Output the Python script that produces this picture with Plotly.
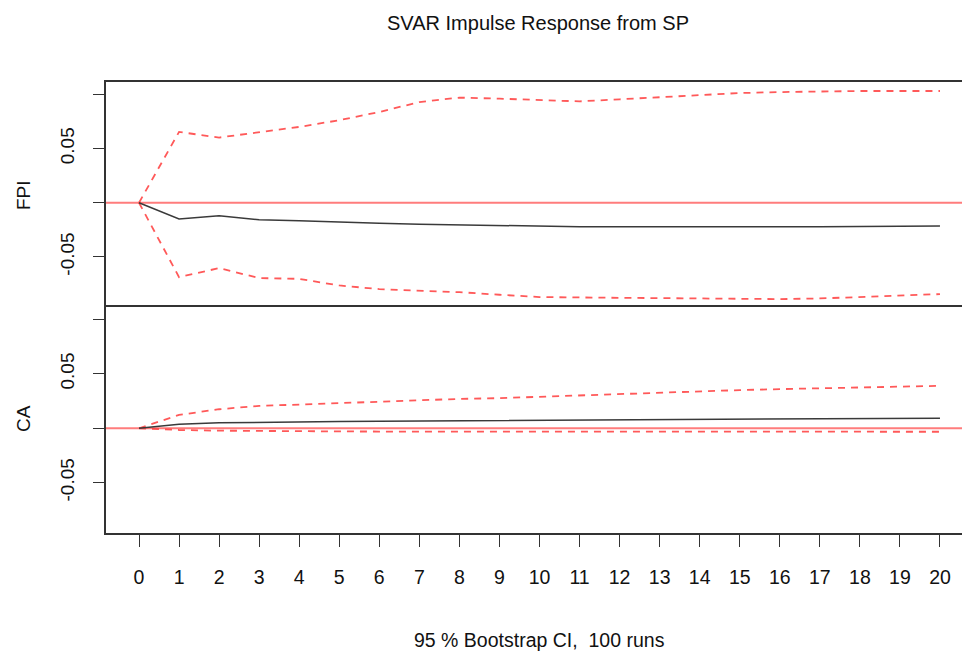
import plotly.graph_objects as go
from plotly.subplots import make_subplots

# Horizons of the impulse response
horizon = list(range(0, 21))
x_ticks = list(range(0, 21))

# Response of FPI to a structural SP shock, with 95% bootstrap bands
fpi_irf = [0.0, -0.0150, -0.0120, -0.0157, -0.0166, -0.0181, -0.0190, -0.0199, -0.0206,
           -0.0212, -0.0218, -0.0221, -0.0223, -0.0224, -0.0225, -0.0225, -0.0224,
           -0.0222, -0.0220, -0.0218, -0.0216]
fpi_upper = [0.0, 0.0654, 0.0602, 0.0651, 0.0700, 0.0762, 0.0838, 0.0930, 0.0971,
             0.0961, 0.0946, 0.0936, 0.0955, 0.0976, 0.0998, 0.1013, 0.1022, 0.1029,
             0.1032, 0.1032, 0.1032]
fpi_lower = [0.0, -0.0687, -0.0604, -0.0696, -0.0703, -0.0764, -0.0798, -0.0810, -0.0826,
             -0.0850, -0.0871, -0.0875, -0.0878, -0.0881, -0.0884, -0.0890, -0.0890,
             -0.0884, -0.0871, -0.0856, -0.0844]

# Response of CA to a structural SP shock, with 95% bootstrap bands
ca_irf = [0.0, 0.0038, 0.0050, 0.0056, 0.0060, 0.0063, 0.0065, 0.0067, 0.0069, 0.0071,
          0.0073, 0.0075, 0.0077, 0.0079, 0.0081, 0.0083, 0.0085, 0.0087, 0.0089,
          0.0091, 0.0093]
ca_upper = [0.0, 0.0123, 0.0175, 0.0206, 0.0218, 0.0231, 0.0246, 0.0261, 0.0270, 0.0277,
            0.0290, 0.0298, 0.0310, 0.0323, 0.0338, 0.0351, 0.0360, 0.0369, 0.0378,
            0.0384, 0.0390]
ca_lower = [0.0, -0.0016, -0.0022, -0.0026, -0.0028, -0.0029, -0.0030, -0.0030, -0.0030,
            -0.0030, -0.0030, -0.0030, -0.0030, -0.0030, -0.0030, -0.0030, -0.0031,
            -0.0031, -0.0031, -0.0032, -0.0032]

y_tickvals = [-0.05, 0.0, 0.05, 0.10]
y_ticktext = ["-0.05", "", "0.05", ""]

FONT = "Liberation Sans, Arial, sans-serif"
BAND = "rgba(255,60,60,0.85)"
ZERO = "rgba(255,80,80,0.75)"
RESP = "#3a3a3a"
FRAME = "#333333"

fig = make_subplots(rows=2, cols=1, shared_xaxes=True, vertical_spacing=0)

panels = [(1, fpi_irf, fpi_upper, fpi_lower), (2, ca_irf, ca_upper, ca_lower)]
for row, irf, up, lo in panels:
    fig.add_trace(go.Scatter(x=horizon, y=up, mode="lines",
                             line=dict(color=BAND, width=1.8, dash="7px,6px"),
                             showlegend=False, hoverinfo="skip"), row=row, col=1)
    fig.add_trace(go.Scatter(x=horizon, y=lo, mode="lines",
                             line=dict(color=BAND, width=1.8, dash="7px,6px"),
                             showlegend=False, hoverinfo="skip"), row=row, col=1)
    fig.add_trace(go.Scatter(x=horizon, y=irf, mode="lines",
                             line=dict(color=RESP, width=1.5),
                             showlegend=False, hoverinfo="skip"), row=row, col=1)
    fig.add_hline(y=0, line=dict(color=ZERO, width=2), row=row, col=1, layer="below")

x_range = [-0.824, 20.55]
y_range = [-0.0963, 0.1115]
split = 226 / 451

common_y = dict(range=y_range, tickmode="array", tickvals=y_tickvals, ticktext=y_ticktext,
                tickangle=-90, ticks="outside", ticklen=11, tickwidth=1.3, tickcolor=FRAME,
                showline=True, linecolor=FRAME, linewidth=1.5, showgrid=False,
                zeroline=False, ticklabelstandoff=12,
                tickfont=dict(family=FONT, size=19, color="#111"))

fig.update_layout(
    width=962, height=652,
    margin=dict(l=106, r=0, t=82, b=119),
    paper_bgcolor="white", plot_bgcolor="white",
    font=dict(family=FONT, color="#111"),
    # top panel: frame line along its upper edge only; the shared edge comes from the lower panel
    xaxis=dict(range=x_range, side="top", showline=True, mirror=False, linecolor=FRAME,
               linewidth=1.8, showgrid=False, zeroline=False, ticks="",
               showticklabels=False, domain=[0, 1]),
    xaxis2=dict(range=x_range, showline=True, mirror=True, linecolor=FRAME, linewidth=2,
                showgrid=False, zeroline=False, tickmode="array", tickvals=x_ticks,
                ticktext=[str(v) for v in x_ticks], ticks="outside", ticklen=12,
                tickwidth=1.3, tickcolor=FRAME, ticklabelstandoff=14,
                tickfont=dict(family=FONT, size=19.5, color="#111"), domain=[0, 1]),
    yaxis=dict(domain=[split, 1], **common_y),
    yaxis2=dict(domain=[0, split], **common_y),
)

notes = [
    dict(text="SVAR Impulse Response from SP", x=(538 - 106) / 856, y=(533 - 23) / 451,
         size=20, angle=0),
    dict(text="95 % Bootstrap CI,  100 runs", x=(539 - 106) / 856, y=(533 - 640) / 451,
         size=19.5, angle=0),
    dict(text="FPI", x=(23 - 106) / 856, y=(533 - 195) / 451, size=19, angle=-90),
    dict(text="CA", x=(23 - 106) / 856, y=(533 - 419) / 451, size=19, angle=-90),
]
for n in notes:
    fig.add_annotation(text=n["text"], xref="paper", yref="paper", x=n["x"], y=n["y"],
                       xanchor="center", yanchor="middle", showarrow=False,
                       textangle=n["angle"],
                       font=dict(family=FONT, size=n["size"], color="#111"))

fig.write_html("out.html")
